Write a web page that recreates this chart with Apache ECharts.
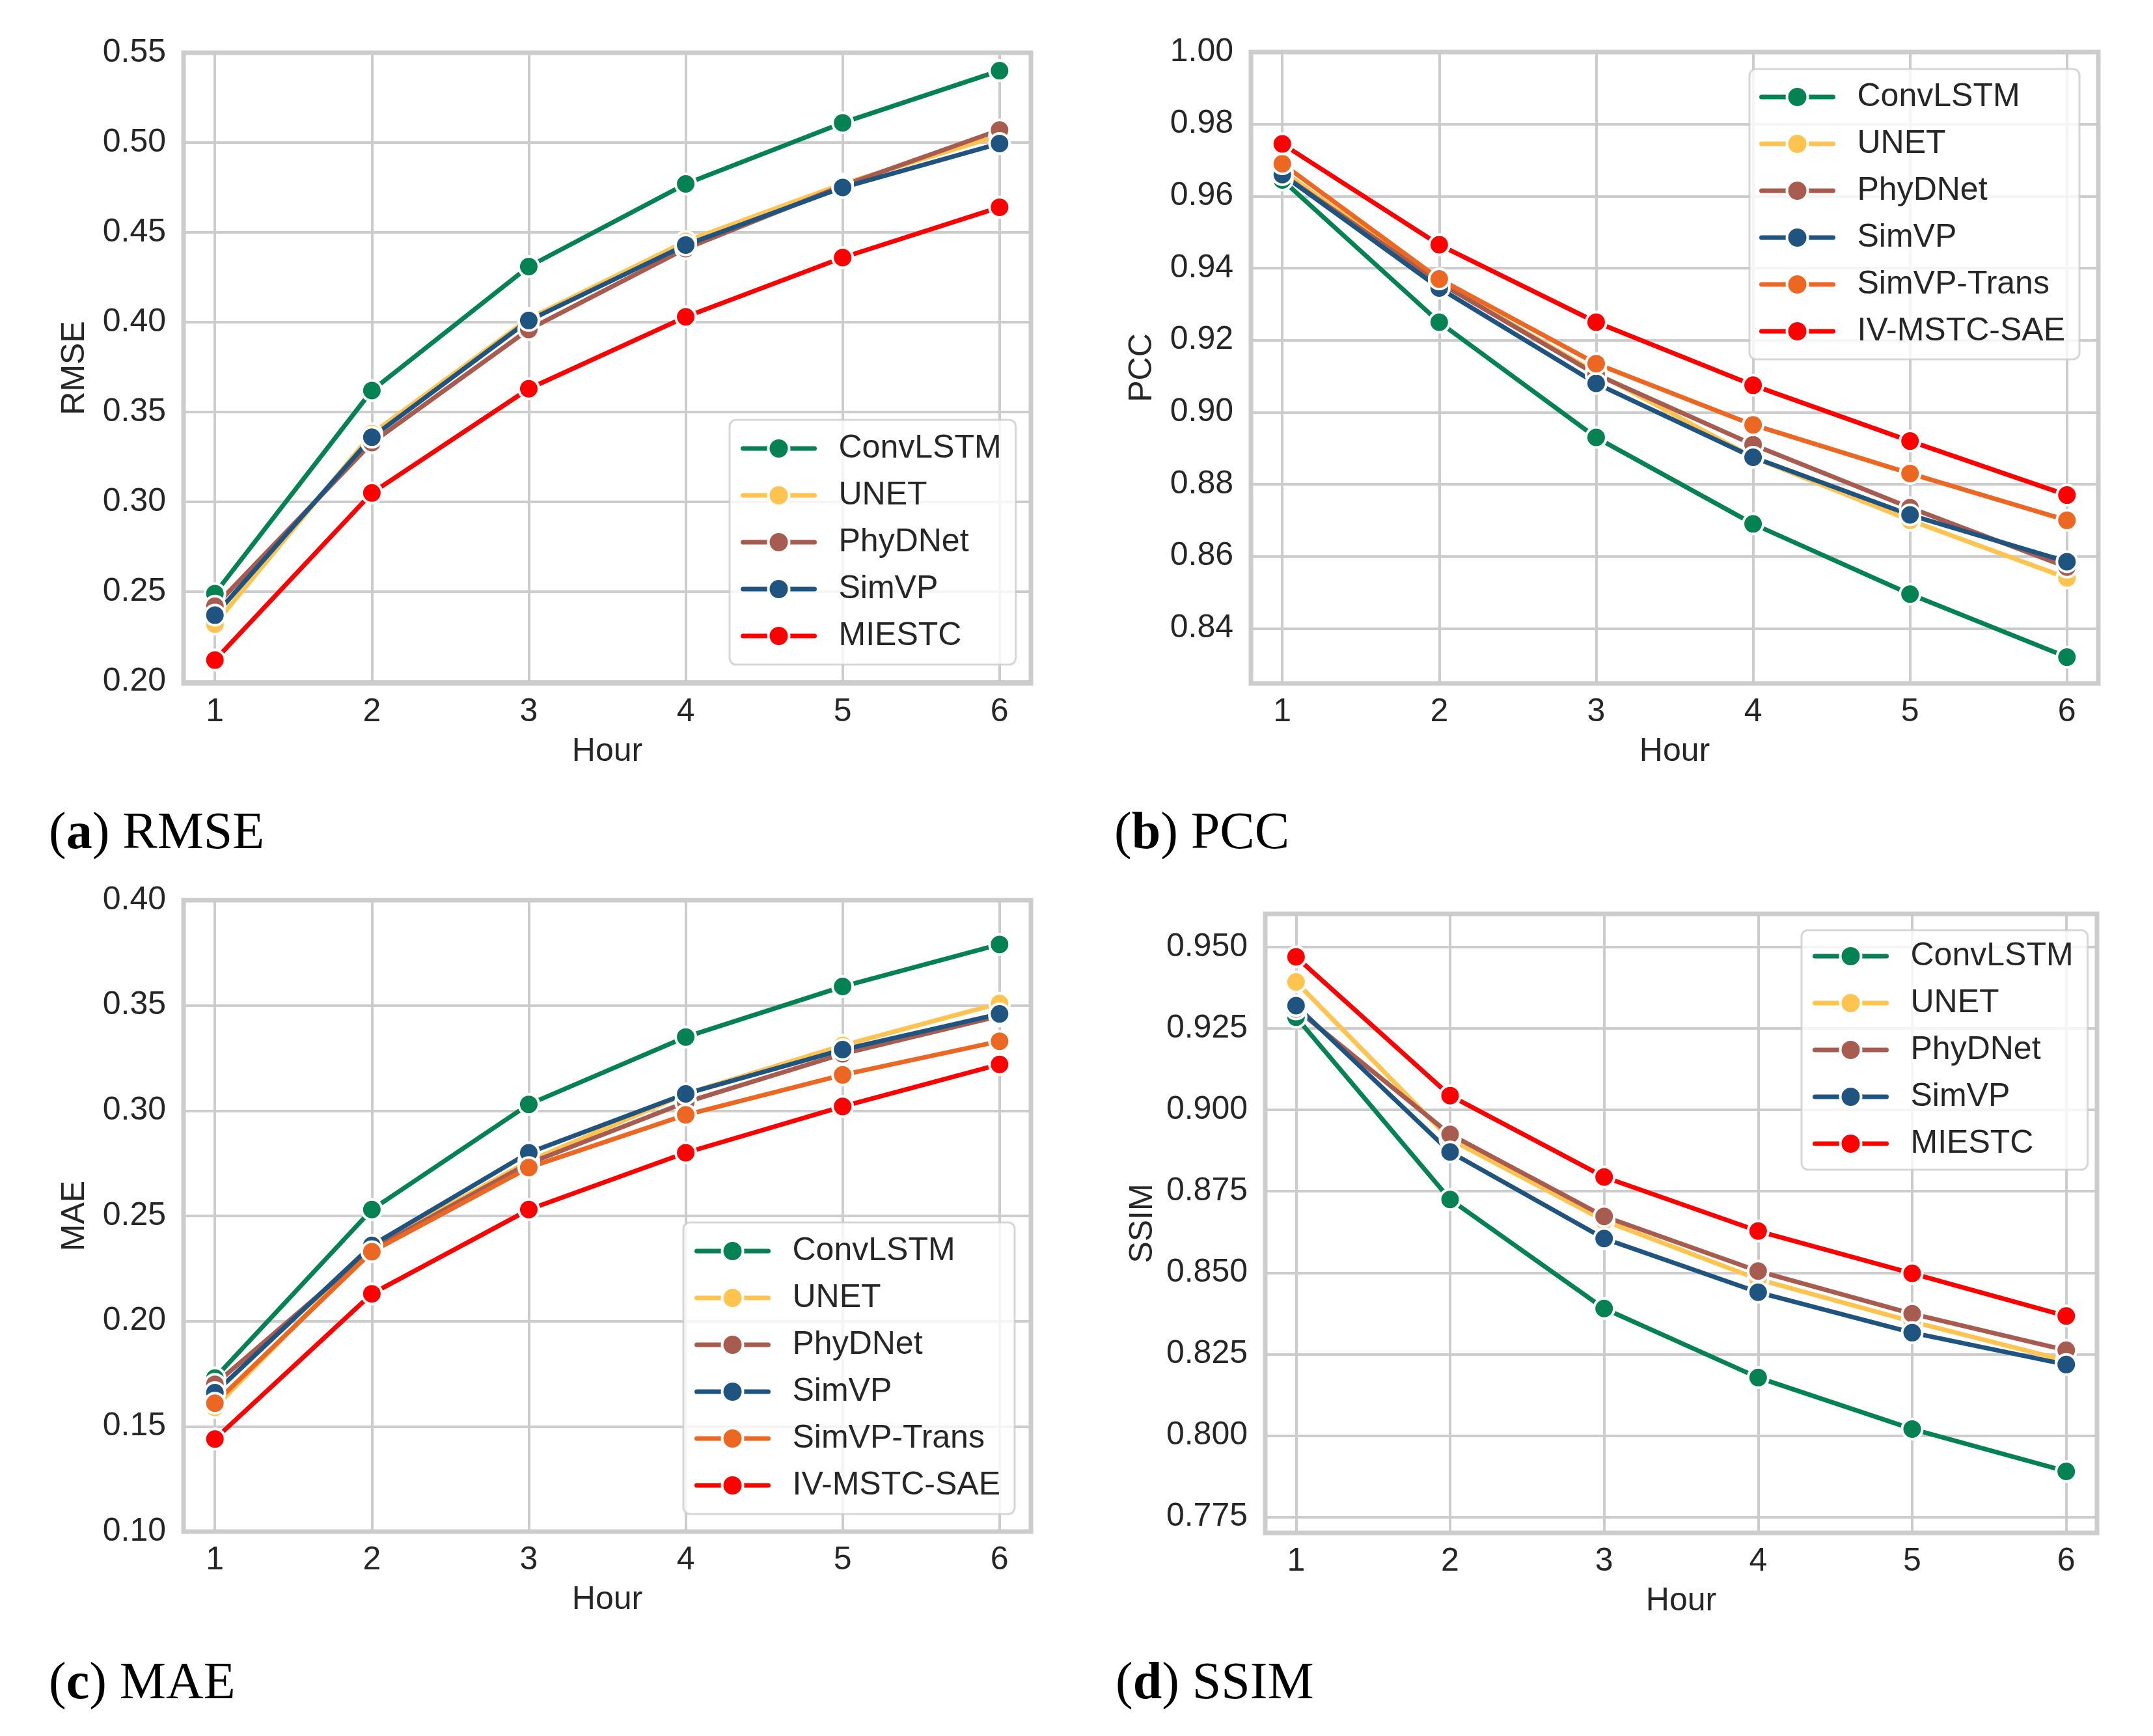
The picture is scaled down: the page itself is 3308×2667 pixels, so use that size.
<!DOCTYPE html>
<html>
<head>
<meta charset="utf-8">
<script src="https://cdn.jsdelivr.net/npm/echarts@6/dist/echarts.min.js"></script>
<style>
  html, body { margin: 0; padding: 0; background: #fff; }
  #chart { width: 3308px; height: 2667px; }
</style>
</head>
<body>
<div id="chart"></div>
<script>
// hours on the x axis
var hours = [1, 2, 3, 4, 5, 6];

// tick labels
var rmseTicks = [0.20, 0.25, 0.30, 0.35, 0.40, 0.45, 0.50, 0.55];
var pccTicks = [0.84, 0.86, 0.88, 0.90, 0.92, 0.94, 0.96, 0.98, 1.00];
var maeTicks = [0.10, 0.15, 0.20, 0.25, 0.30, 0.35, 0.40];
var ssimTicks = [0.775, 0.800, 0.825, 0.850, 0.875, 0.900, 0.925, 0.950];

// (a) RMSE
var rmseConvLSTM = [0.249, 0.362, 0.431, 0.477, 0.511, 0.540];
var rmseUNET     = [0.232, 0.338, 0.402, 0.445, 0.477, 0.504];
var rmsePhyDNet  = [0.242, 0.333, 0.396, 0.441, 0.476, 0.507];
var rmseSimVP    = [0.237, 0.336, 0.401, 0.443, 0.475, 0.4995];
var rmseMIESTC   = [0.212, 0.305, 0.363, 0.403, 0.436, 0.464];

// (b) PCC
var pccConvLSTM   = [0.9645, 0.925, 0.893, 0.869, 0.8495, 0.832];
var pccUNET       = [0.967, 0.936, 0.911, 0.8875, 0.870, 0.854];
var pccPhyDNet    = [0.966, 0.936, 0.9105, 0.891, 0.8735, 0.857];
var pccSimVP      = [0.966, 0.9345, 0.908, 0.8875, 0.8715, 0.8585];
var pccSimVPTrans = [0.969, 0.937, 0.9135, 0.8965, 0.883, 0.870];
var pccIVMSTC     = [0.9745, 0.9465, 0.925, 0.9075, 0.892, 0.877];

// (c) MAE
var maeConvLSTM   = [0.173, 0.253, 0.303, 0.335, 0.359, 0.379];
var maeUNET       = [0.159, 0.235, 0.276, 0.308, 0.331, 0.351];
var maePhyDNet    = [0.170, 0.234, 0.275, 0.304, 0.327, 0.345];
var maeSimVP      = [0.166, 0.236, 0.280, 0.308, 0.329, 0.346];
var maeSimVPTrans = [0.161, 0.233, 0.273, 0.298, 0.317, 0.333];
var maeIVMSTC     = [0.144, 0.213, 0.253, 0.280, 0.302, 0.322];

// (d) SSIM
var ssimConvLSTM = [0.9285, 0.8725, 0.839, 0.8178, 0.802, 0.789];
var ssimUNET     = [0.9393, 0.891, 0.866, 0.848, 0.835, 0.823];
var ssimPhyDNet  = [0.931, 0.8925, 0.8673, 0.8505, 0.8374, 0.8262];
var ssimSimVP    = [0.932, 0.8871, 0.8605, 0.844, 0.8316, 0.8218];
var ssimMIESTC   = [0.947, 0.9044, 0.8794, 0.8628, 0.8498, 0.8367];

var C = {
  ConvLSTM: '#058253',
  UNET: '#FFC350',
  PhyDNet: '#A85C4F',
  SimVP: '#1F5480',
  SimVPTrans: '#EB6722',
  Red: '#FF0000'
};
var TXT = '#262626';
var SANS = 'Liberation Sans';
var SERIF = 'Liberation Serif';
var LW = 7;

function line(name, color, vals, idx) {
  return {
    type: 'line',
    name: name,
    xAxisIndex: idx,
    yAxisIndex: idx,
    data: hours.map(function (h, k) { return [h, vals[k]]; }),
    symbol: 'circle',
    symbolSize: 31,
    lineStyle: { color: color, width: LW },
    itemStyle: { color: color, borderColor: '#fff', borderWidth: 4 },
    emphasis: { disabled: true }
  };
}

function xAx(idx) {
  return {
    type: 'value', gridIndex: idx, min: 0.8, max: 6.2,
    name: 'Hour', nameLocation: 'middle', nameGap: 80,
    nameTextStyle: { fontFamily: SANS, fontSize: 50, color: TXT, lineHeight: 50 },
    axisLine: { show: false },
    axisTick: { show: false, customValues: hours },
    axisLabel: { customValues: hours, fontFamily: SANS, fontSize: 50, color: TXT, margin: 19, lineHeight: 50 },
    splitLine: { show: true, lineStyle: { color: '#cccccc', width: 4 } }
  };
}

function yAx(idx, name, min, max, ticks, dec, gap) {
  return {
    type: 'value', gridIndex: idx, min: min, max: max,
    name: name, nameLocation: 'middle', nameGap: gap,
    nameTextStyle: { fontFamily: SANS, fontSize: 50, color: TXT, lineHeight: 50 },
    axisLine: { show: false },
    axisTick: { show: false, customValues: ticks },
    axisLabel: {
      customValues: ticks, fontFamily: SANS, fontSize: 50, color: TXT, margin: 27,
      formatter: function (v) { return Number(v).toFixed(dec); }
    },
    splitLine: { show: true, lineStyle: { color: '#cccccc', width: 4 } }
  };
}

function leg(names, left, top, pad) {
  return {
    orient: 'vertical', left: left, top: top,
    data: names,
    itemWidth: 110, itemHeight: 40, itemGap: 22,
    padding: pad,
    backgroundColor: 'rgba(255,255,255,0.8)',
    borderColor: 'rgba(204,204,204,0.8)', borderWidth: 3, borderRadius: 10,
    selectedMode: false,
    lineStyle: { width: LW, cap: 'round' },
    itemStyle: { borderColor: '#fff', borderWidth: 4 },
    textStyle: { fontFamily: SANS, fontSize: 50, color: TXT, lineHeight: 50, padding: [0, 0, 0, 32] }
  };
}

function cap(letter, rest, left, top) {
  return {
    text: '({b|' + letter + '}) ' + rest,
    left: left, top: top, padding: 0,
    textStyle: {
      fontFamily: SERIF, fontSize: 80, fontWeight: 'normal', color: '#000', lineHeight: 80,
      rich: { b: { fontFamily: SERIF, fontSize: 80, fontWeight: 'bold', color: '#000', lineHeight: 80 } }
    }
  };
}

var names5 = ['ConvLSTM', 'UNET', 'PhyDNet', 'SimVP', 'MIESTC'];
var names6 = ['ConvLSTM', 'UNET', 'PhyDNet', 'SimVP', 'SimVP-Trans', 'IV-MSTC-SAE'];

var chart = echarts.init(document.getElementById('chart'));
var option = {
  animation: false,
  backgroundColor: '#fff',
  title: [
    cap('a', 'RMSE', 75, 1242),
    cap('b', 'PCC', 1712, 1242),
    cap('c', 'MAE', 75, 2548),
    cap('d', 'SSIM', 1714, 2548)
  ],
  grid: [
    { left: 282, top: 81, width: 1302, height: 969 },
    { left: 1922, top: 80, width: 1302, height: 970 },
    { left: 282, top: 1383, width: 1302, height: 970 },
    { left: 1944, top: 1404, width: 1278, height: 951 }
  ].map(function (g) {
    g.show = true; g.borderColor = '#cccccc'; g.borderWidth = 7; g.backgroundColor = '#fff';
    return g;
  }),
  xAxis: [xAx(0), xAx(1), xAx(2), xAx(3)],
  yAxis: [
    yAx(0, 'RMSE', 0.199, 0.55, rmseTicks, 2, 142),
    yAx(1, 'PCC', 0.8247, 1.0, pccTicks, 2, 142),
    yAx(2, 'MAE', 0.10, 0.40, maeTicks, 2, 142),
    yAx(3, 'SSIM', 0.7701, 0.9602, ssimTicks, 3, 163)
  ],
  legend: [
    leg(names5, 1121, 645, [19, 22, 19, 17]),
    leg(names6, 2688, 106, [18, 22, 18, 15]),
    leg(names6, 1050, 1878, [19, 22, 19, 17]),
    leg(names5, 2768, 1429, [15, 22, 15, 17])
  ],
  series: [
    line('ConvLSTM', C.ConvLSTM, rmseConvLSTM, 0),
    line('UNET', C.UNET, rmseUNET, 0),
    line('PhyDNet', C.PhyDNet, rmsePhyDNet, 0),
    line('SimVP', C.SimVP, rmseSimVP, 0),
    line('MIESTC', C.Red, rmseMIESTC, 0),

    line('ConvLSTM', C.ConvLSTM, pccConvLSTM, 1),
    line('UNET', C.UNET, pccUNET, 1),
    line('PhyDNet', C.PhyDNet, pccPhyDNet, 1),
    line('SimVP', C.SimVP, pccSimVP, 1),
    line('SimVP-Trans', C.SimVPTrans, pccSimVPTrans, 1),
    line('IV-MSTC-SAE', C.Red, pccIVMSTC, 1),

    line('ConvLSTM', C.ConvLSTM, maeConvLSTM, 2),
    line('UNET', C.UNET, maeUNET, 2),
    line('PhyDNet', C.PhyDNet, maePhyDNet, 2),
    line('SimVP', C.SimVP, maeSimVP, 2),
    line('SimVP-Trans', C.SimVPTrans, maeSimVPTrans, 2),
    line('IV-MSTC-SAE', C.Red, maeIVMSTC, 2),

    line('ConvLSTM', C.ConvLSTM, ssimConvLSTM, 3),
    line('UNET', C.UNET, ssimUNET, 3),
    line('PhyDNet', C.PhyDNet, ssimPhyDNet, 3),
    line('SimVP', C.SimVP, ssimSimVP, 3),
    line('MIESTC', C.Red, ssimMIESTC, 3)
  ]
};
chart.setOption(option);
</script>
</body>
</html>
